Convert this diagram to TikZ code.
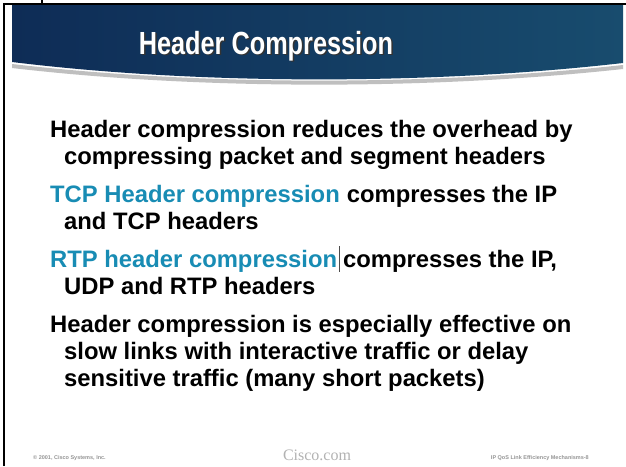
\documentclass[tikz,border=0pt]{standalone}
\usepackage{fontspec}
\setmainfont{Liberation Sans}
\newfontfamily\footserif{Liberation Serif}
\definecolor{teal1}{RGB}{24,140,180}
\definecolor{navy1}{RGB}{14,44,86}
\definecolor{mid1}{RGB}{24,124,156}
\definecolor{rt1}{RGB}{24,76,110}
\definecolor{footgray}{RGB}{150,150,150}
\tikzset{
  body/.style={anchor=base west, inner sep=0pt, font=\fontsize{23.8}{27}\selectfont\bfseries, text=black},
  hl/.style={text=teal1},
  foot/.style={inner sep=0pt, font=\fontsize{5.5}{6}\selectfont\bfseries, text=footgray},
}
\begin{document}
\begin{tikzpicture}[x=1pt,y=-1pt]
\useasboundingbox (0,0) rectangle (626,466);
\fill[white] (0,0) rectangle (626,466);
% shadow under banner
\fill[black!25] (12,64) .. controls (200,86) and (430,86) .. (623,65) -- (623,69) .. controls (430,90) and (200,90) .. (12,68) -- cycle;
% banner
\shade[left color=navy1, middle color=mid1, right color=rt1]
  (12,5) -- (623,5) -- (623,63) .. controls (430,85) and (200,85) .. (12,62) -- cycle;
% borders
\draw[black, line width=1.2pt] (4,466) -- (4,4) -- (626,4);
\draw[black, line width=1.5pt] (42,0) -- (42,4);
% title
\node[inner sep=0pt, text=black!80] at (267.5,47.5) {\fontsize{32}{36}\selectfont\bfseries\scalebox{0.79}[1]{Header Compression}};
\node[inner sep=0pt, text=white] (title) at (266,46) {\fontsize{32}{36}\selectfont\bfseries\scalebox{0.79}[1]{Header Compression}};
% body
\node[body] (l1) at (50,137) {Header compression reduces the overhead by};
\node[body] (l2) at (64,164) {compressing packet and segment headers};
\node[body,hl] (l3a) at (50,202) {TCP Header compression};
\node[body] (l3b) at (l3a.base east) {\ compresses the IP};
\node[body] (l4) at (64,229) {and TCP headers};
\node[body,hl] (l5a) at (50,267) {RTP header compression};
\node[body] (l5b) at ([xshift=-1pt]l5a.base east) {\ compresses the IP,};
\draw[black!70, line width=0.8pt] ([xshift=2pt,yshift=21pt]l5a.base east) -- ([xshift=2pt,yshift=-5pt]l5a.base east);
\node[body] (l6) at (64,294) {UDP and RTP headers};
\node[body] (l7) at (50,332) {Header compression is especially effective on};
\node[body] (l8) at (64,359) {slow links with interactive traffic or delay};
\node[body] (l9) at (64,386) {sensitive traffic (many short packets)};
% footer
\node[foot, anchor=west] (copy) at (33,458) {\textcopyright\ 2001, Cisco Systems, Inc.};
\node[inner sep=0pt, text=black!30, font=\footserif\fontsize{16}{18}\selectfont] (cisco) at (317,455) {Cisco.com};
\node[foot, anchor=east] (mech) at (589,458) {IP QoS Link Efficiency Mechanisms-8};
\end{tikzpicture}
\end{document}
